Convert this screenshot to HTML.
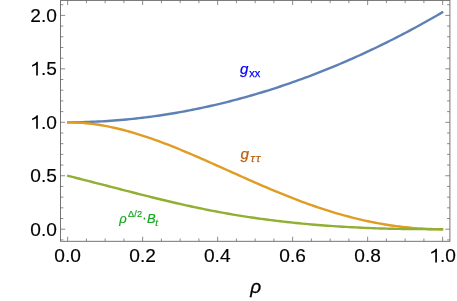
<!DOCTYPE html>
<html><head><meta charset="utf-8"><title>plot</title>
<style>
html,body{margin:0;padding:0;background:#fff;}
body{width:457px;height:301px;overflow:hidden;}
svg{display:block;will-change:transform;font-family:"Liberation Sans",sans-serif;}
</style></head>
<body>
<svg width="457" height="301" viewBox="0 0 457 301">
<rect x="0" y="0" width="457" height="301" fill="#ffffff"/>
<path d="M67.09,122.30 L70.22,122.29 L73.36,122.27 L76.49,122.24 L79.62,122.18 L82.76,122.11 L85.89,122.03 L89.03,121.92 L92.16,121.81 L95.30,121.67 L98.43,121.52 L101.57,121.36 L104.70,121.18 L107.83,120.98 L110.97,120.77 L114.10,120.54 L117.24,120.29 L120.37,120.03 L123.51,119.76 L126.64,119.46 L129.78,119.16 L132.91,118.84 L136.04,118.50 L139.18,118.14 L142.31,117.77 L145.45,117.39 L148.58,116.99 L151.72,116.57 L154.85,116.14 L157.98,115.70 L161.12,115.24 L164.25,114.76 L167.39,114.27 L170.52,113.76 L173.66,113.24 L176.79,112.70 L179.93,112.15 L183.06,111.58 L186.19,111.00 L189.33,110.40 L192.46,109.78 L195.60,109.15 L198.73,108.51 L201.87,107.85 L205.00,107.18 L208.13,106.49 L211.27,105.78 L214.40,105.07 L217.54,104.33 L220.67,103.58 L223.81,102.82 L226.94,102.04 L230.08,101.24 L233.21,100.43 L236.34,99.61 L239.48,98.77 L242.61,97.92 L245.75,97.05 L248.88,96.16 L252.02,95.26 L255.15,94.35 L258.28,93.42 L261.42,92.48 L264.55,91.52 L267.69,90.54 L270.82,89.55 L273.96,88.55 L277.09,87.53 L280.23,86.50 L283.36,85.45 L286.49,84.38 L289.63,83.30 L292.76,82.21 L295.90,81.10 L299.03,79.98 L302.17,78.84 L305.30,77.68 L308.43,76.51 L311.57,75.33 L314.70,74.13 L317.84,72.92 L320.97,71.69 L324.11,70.44 L327.24,69.18 L330.38,67.91 L333.51,66.62 L336.64,65.31 L339.78,63.99 L342.91,62.66 L346.05,61.31 L349.18,59.94 L352.32,58.56 L355.45,57.16 L358.58,55.75 L361.72,54.33 L364.85,52.88 L367.99,51.43 L371.12,49.95 L374.26,48.46 L377.39,46.96 L380.53,45.44 L383.66,43.91 L386.79,42.36 L389.93,40.79 L393.06,39.21 L396.20,37.61 L399.33,36.00 L402.47,34.37 L405.60,32.73 L408.73,31.07 L411.87,29.39 L415.00,27.70 L418.14,26.00 L421.27,24.27 L424.41,22.53 L427.54,20.78 L430.68,19.01 L433.81,17.22 L436.94,15.42 L440.08,13.60 L443.21,11.77" fill="none" stroke="#5e81b5" stroke-width="2.4" stroke-linejoin="round"/>
<path d="M67.09,122.30 L70.22,122.32 L73.36,122.39 L76.49,122.51 L79.62,122.69 L82.76,122.91 L85.89,123.19 L89.03,123.51 L92.16,123.88 L95.30,124.30 L98.43,124.77 L101.57,125.28 L104.70,125.83 L107.83,126.43 L110.97,127.07 L114.10,127.75 L117.24,128.47 L120.37,129.23 L123.51,130.02 L126.64,130.85 L129.78,131.72 L132.91,132.62 L136.04,133.56 L139.18,134.53 L142.31,135.52 L145.45,136.55 L148.58,137.61 L151.72,138.69 L154.85,139.80 L157.98,140.94 L161.12,142.10 L164.25,143.28 L167.39,144.48 L170.52,145.71 L173.66,146.95 L176.79,148.22 L179.93,149.50 L183.06,150.79 L186.19,152.10 L189.33,153.43 L192.46,154.76 L195.60,156.11 L198.73,157.47 L201.87,158.84 L205.00,160.22 L208.13,161.60 L211.27,162.99 L214.40,164.39 L217.54,165.79 L220.67,167.19 L223.81,168.60 L226.94,170.01 L230.08,171.41 L233.21,172.82 L236.34,174.22 L239.48,175.63 L242.61,177.02 L245.75,178.42 L248.88,179.80 L252.02,181.19 L255.15,182.56 L258.28,183.93 L261.42,185.28 L264.55,186.63 L267.69,187.97 L270.82,189.29 L273.96,190.60 L277.09,191.90 L280.23,193.19 L283.36,194.46 L286.49,195.72 L289.63,196.96 L292.76,198.19 L295.90,199.39 L299.03,200.58 L302.17,201.76 L305.30,202.91 L308.43,204.04 L311.57,205.16 L314.70,206.25 L317.84,207.32 L320.97,208.37 L324.11,209.40 L327.24,210.40 L330.38,211.39 L333.51,212.35 L336.64,213.28 L339.78,214.19 L342.91,215.08 L346.05,215.94 L349.18,216.78 L352.32,217.59 L355.45,218.37 L358.58,219.13 L361.72,219.86 L364.85,220.57 L367.99,221.25 L371.12,221.90 L374.26,222.53 L377.39,223.12 L380.53,223.69 L383.66,224.24 L386.79,224.75 L389.93,225.24 L393.06,225.70 L396.20,226.13 L399.33,226.53 L402.47,226.90 L405.60,227.25 L408.73,227.56 L411.87,227.85 L415.00,228.12 L418.14,228.35 L421.27,228.55 L424.41,228.73 L427.54,228.88 L430.68,229.00 L433.81,229.09 L436.94,229.15 L440.08,229.19 L443.21,229.20" fill="none" stroke="#e19c24" stroke-width="2.4" stroke-linejoin="round"/>
<path d="M67.09,175.61 L70.22,176.40 L73.36,177.19 L76.49,177.99 L79.62,178.78 L82.76,179.58 L85.89,180.38 L89.03,181.18 L92.16,181.98 L95.30,182.79 L98.43,183.59 L101.57,184.40 L104.70,185.21 L107.83,186.02 L110.97,186.83 L114.10,187.64 L117.24,188.45 L120.37,189.26 L123.51,190.07 L126.64,190.87 L129.78,191.68 L132.91,192.48 L136.04,193.28 L139.18,194.08 L142.31,194.87 L145.45,195.66 L148.58,196.45 L151.72,197.23 L154.85,198.00 L157.98,198.77 L161.12,199.53 L164.25,200.29 L167.39,201.03 L170.52,201.77 L173.66,202.51 L176.79,203.23 L179.93,203.95 L183.06,204.65 L186.19,205.35 L189.33,206.04 L192.46,206.72 L195.60,207.38 L198.73,208.04 L201.87,208.69 L205.00,209.33 L208.13,209.95 L211.27,210.57 L214.40,211.17 L217.54,211.76 L220.67,212.34 L223.81,212.91 L226.94,213.47 L230.08,214.02 L233.21,214.56 L236.34,215.08 L239.48,215.59 L242.61,216.10 L245.75,216.59 L248.88,217.07 L252.02,217.53 L255.15,217.99 L258.28,218.44 L261.42,218.87 L264.55,219.30 L267.69,219.71 L270.82,220.11 L273.96,220.50 L277.09,220.88 L280.23,221.26 L283.36,221.62 L286.49,221.97 L289.63,222.31 L292.76,222.64 L295.90,222.96 L299.03,223.28 L302.17,223.58 L305.30,223.87 L308.43,224.16 L311.57,224.43 L314.70,224.70 L317.84,224.96 L320.97,225.21 L324.11,225.45 L327.24,225.68 L330.38,225.91 L333.51,226.13 L336.64,226.33 L339.78,226.53 L342.91,226.73 L346.05,226.91 L349.18,227.09 L352.32,227.26 L355.45,227.42 L358.58,227.57 L361.72,227.72 L364.85,227.86 L367.99,227.99 L371.12,228.11 L374.26,228.23 L377.39,228.34 L380.53,228.44 L383.66,228.53 L386.79,228.62 L389.93,228.70 L393.06,228.78 L396.20,228.84 L399.33,228.90 L402.47,228.96 L405.60,229.00 L408.73,229.05 L411.87,229.08 L415.00,229.11 L418.14,229.14 L421.27,229.16 L424.41,229.17 L427.54,229.18 L430.68,229.19 L433.81,229.20 L436.94,229.20 L440.08,229.20 L443.21,229.20" fill="none" stroke="#8fb032" stroke-width="2.4" stroke-linejoin="round"/>
<path d="M67.65,241.3 v-4.6 M67.65,0.4 v4.6 M86.40,241.3 v-2.8 M86.40,0.4 v2.8 M105.15,241.3 v-2.8 M105.15,0.4 v2.8 M123.90,241.3 v-2.8 M123.90,0.4 v2.8 M142.65,241.3 v-4.6 M142.65,0.4 v4.6 M161.40,241.3 v-2.8 M161.40,0.4 v2.8 M180.15,241.3 v-2.8 M180.15,0.4 v2.8 M198.90,241.3 v-2.8 M198.90,0.4 v2.8 M217.65,241.3 v-4.6 M217.65,0.4 v4.6 M236.40,241.3 v-2.8 M236.40,0.4 v2.8 M255.15,241.3 v-2.8 M255.15,0.4 v2.8 M273.90,241.3 v-2.8 M273.90,0.4 v2.8 M292.65,241.3 v-4.6 M292.65,0.4 v4.6 M311.40,241.3 v-2.8 M311.40,0.4 v2.8 M330.15,241.3 v-2.8 M330.15,0.4 v2.8 M348.90,241.3 v-2.8 M348.90,0.4 v2.8 M367.65,241.3 v-4.6 M367.65,0.4 v4.6 M386.40,241.3 v-2.8 M386.40,0.4 v2.8 M405.15,241.3 v-2.8 M405.15,0.4 v2.8 M423.90,241.3 v-2.8 M423.90,0.4 v2.8 M442.65,241.3 v-4.6 M442.65,0.4 v4.6 M60.55,239.89 h2.8 M449.9,239.89 h-2.8 M60.55,229.20 h4.6 M449.9,229.20 h-4.6 M60.55,218.51 h2.8 M449.9,218.51 h-2.8 M60.55,207.82 h2.8 M449.9,207.82 h-2.8 M60.55,197.13 h2.8 M449.9,197.13 h-2.8 M60.55,186.44 h2.8 M449.9,186.44 h-2.8 M60.55,175.75 h4.6 M449.9,175.75 h-4.6 M60.55,165.06 h2.8 M449.9,165.06 h-2.8 M60.55,154.37 h2.8 M449.9,154.37 h-2.8 M60.55,143.68 h2.8 M449.9,143.68 h-2.8 M60.55,132.99 h2.8 M449.9,132.99 h-2.8 M60.55,122.30 h4.6 M449.9,122.30 h-4.6 M60.55,111.61 h2.8 M449.9,111.61 h-2.8 M60.55,100.92 h2.8 M449.9,100.92 h-2.8 M60.55,90.23 h2.8 M449.9,90.23 h-2.8 M60.55,79.54 h2.8 M449.9,79.54 h-2.8 M60.55,68.85 h4.6 M449.9,68.85 h-4.6 M60.55,58.16 h2.8 M449.9,58.16 h-2.8 M60.55,47.47 h2.8 M449.9,47.47 h-2.8 M60.55,36.78 h2.8 M449.9,36.78 h-2.8 M60.55,26.09 h2.8 M449.9,26.09 h-2.8 M60.55,15.40 h4.6 M449.9,15.40 h-4.6 M60.55,4.71 h2.8 M449.9,4.71 h-2.8" fill="none" stroke="#666666" stroke-width="0.75"/>
<rect x="60.55" y="0.4" width="389.34999999999997" height="240.9" fill="none" stroke="#666666" stroke-width="0.9"/>
<text x="56.85" y="235.75" font-size="19.1" text-anchor="end" fill="#000" stroke="#000" stroke-width="0.15">0.0</text>
<text x="56.85" y="182.30" font-size="19.1" text-anchor="end" fill="#000" stroke="#000" stroke-width="0.15">0.5</text>
<path d="M0,0 H-0.0879 V0.5601 Q-0.1261,0.5298 -0.1879,0.4995 T-0.2989,0.4541 V0.5391 Q-0.2110,0.5735 -0.1454,0.6226 T-0.0581,0.7158 H0 Z" transform="translate(37.85,128.85) scale(19.1,-19.1)" fill="#000"/>
<text x="56.85" y="128.85" font-size="19.1" text-anchor="end" fill="#000" stroke="#000" stroke-width="0.15">.0</text>
<path d="M0,0 H-0.0879 V0.5601 Q-0.1261,0.5298 -0.1879,0.4995 T-0.2989,0.4541 V0.5391 Q-0.2110,0.5735 -0.1454,0.6226 T-0.0581,0.7158 H0 Z" transform="translate(37.85,75.40) scale(19.1,-19.1)" fill="#000"/>
<text x="56.85" y="75.40" font-size="19.1" text-anchor="end" fill="#000" stroke="#000" stroke-width="0.15">.5</text>
<text x="56.85" y="21.95" font-size="19.1" text-anchor="end" fill="#000" stroke="#000" stroke-width="0.15">2.0</text>
<text x="80.92" y="262.40" font-size="19.1" text-anchor="end" fill="#000" stroke="#000" stroke-width="0.15">0.0</text>
<text x="155.92" y="262.40" font-size="19.1" text-anchor="end" fill="#000" stroke="#000" stroke-width="0.15">0.2</text>
<text x="230.52" y="262.40" font-size="19.1" text-anchor="end" fill="#000" stroke="#000" stroke-width="0.15">0.4</text>
<text x="305.92" y="262.40" font-size="19.1" text-anchor="end" fill="#000" stroke="#000" stroke-width="0.15">0.6</text>
<text x="380.92" y="262.40" font-size="19.1" text-anchor="end" fill="#000" stroke="#000" stroke-width="0.15">0.8</text>
<path d="M0,0 H-0.0879 V0.5601 Q-0.1261,0.5298 -0.1879,0.4995 T-0.2989,0.4541 V0.5391 Q-0.2110,0.5735 -0.1454,0.6226 T-0.0581,0.7158 H0 Z" transform="translate(436.92,262.40) scale(19.1,-19.1)" fill="#000"/>
<text x="455.92" y="262.40" font-size="19.1" text-anchor="end" fill="#000" stroke="#000" stroke-width="0.15">.0</text>
<text x="250.2" y="292.6" font-size="19" font-style="italic" fill="#000" stroke="#000" stroke-width="0.3">ρ</text>
<text x="240.0" y="73.75" font-size="15" fill="#0000ff" stroke="#0000ff" stroke-width="0.25"><tspan font-style="italic">g</tspan><tspan font-size="11" dy="3.2" dx="1.0">xx</tspan></text>
<text x="240.5" y="158.95" font-size="15.3" fill="#b85f0c" stroke="#b85f0c" stroke-width="0.25"><tspan font-style="italic">g</tspan><tspan font-size="11.6" dy="3.2" dx="1.6" font-style="italic" letter-spacing="1.1">ττ</tspan></text>
<text x="119.15" y="223.1" font-size="13" fill="#14a81e" stroke="#14a81e" stroke-width="0.2" font-style="italic">ρ</text>
<text x="127.9" y="217.3" font-size="9.2" fill="#14a81e" stroke="#14a81e" stroke-width="0.2" letter-spacing="0.25">Δ/2</text>
<text x="142.2" y="222.0" font-size="13" fill="#14a81e" stroke="#14a81e" stroke-width="0.2">·</text>
<text x="146.9" y="222.8" font-size="13" fill="#14a81e" stroke="#14a81e" stroke-width="0.2" font-style="italic">B</text>
<text x="155.2" y="226.0" font-size="9.6" fill="#14a81e" stroke="#14a81e" stroke-width="0.2" font-style="italic">t</text>
</svg>
</body></html>
